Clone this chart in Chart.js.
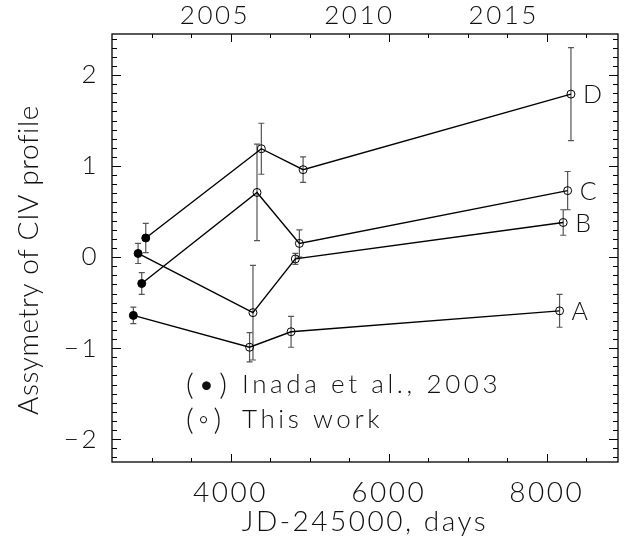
<!DOCTYPE html>
<html>
<head>
<meta charset="utf-8">
<script src="https://cdn.jsdelivr.net/npm/chart.js@4.4.0/dist/chart.umd.min.js"></script>
<style>
    html, body { margin: 0; padding: 0; background: #fff; }
</style>
</head>
<body>
<canvas id="myChart" width="632" height="547"></canvas>
<script>
'use strict';
// 데이터 (JD-2450000, asymmetry, error)
var seriesNames = ['A', 'B', 'C', 'D'];
var daysA = [2770, 4240, 4765, 8161];
var valsA = [-0.64, -0.99, -0.82, -0.59];
var errA  = [0.09, 0.16, 0.17, 0.18];
var daysB = [2830, 4283, 4819, 8207];
var valsB = [0.04, -0.61, -0.02, 0.38];
var errB  = [0.11, 0.52, 0.06, 0.14];
var daysC = [2876, 4334, 4870, 8263];
var valsC = [-0.29, 0.71, 0.15, 0.73];
var errC  = [0.12, 0.53, 0.15, 0.21];
var daysD = [2927, 4389, 4917, 8305];
var valsD = [0.21, 1.19, 0.96, 1.79];
var errD  = [0.16, 0.28, 0.14, 0.51];

var xTicks = [4000, 6000, 8000];
var yTicks = [-2, -1, 0, 1, 2];
var yearLabels = ['2005', '2010', '2015'];
var yearDays = [3803, 5629, 7455];
var legendMarks = ['(\u2022)', '(\u25e6)'];
var legendTexts = ['Inada et al., 2003', 'This work'];
var yTitle = 'Assymetry of CIV profile';

var allDays = [daysA, daysB, daysC, daysD];
var allVals = [valsA, valsB, valsC, valsD];
var allErr = [errA, errB, errC, errD];

var FONT = 'Lato, "DejaVu Sans", sans-serif';
var INK = '#111';

var datasets = seriesNames.map(function (name, i) {
    return {
        label: name,
        data: allDays[i].map(function (d, j) { return { x: d, y: allVals[i][j] }; }),
        borderColor: '#000',
        borderWidth: 1.4,
        tension: 0,
        fill: false,
        pointRadius: 4,
        pointBorderWidth: 1,
        pointBorderColor: '#000',
        // 첫 점은 Inada et al. (채움)
        pointBackgroundColor: allDays[i].map(function (d, j) { return j === 0 ? '#000' : 'rgba(0,0,0,0)'; })
    };
});

var framePlugin = {
    id: 'frame',
    beforeDraw: function (chart) {
        // 글자 간격 넓게 (원본 글꼴 흉내)
        chart.ctx.letterSpacing = '2.5px';
    },
    beforeDatasetsDraw: function (chart) {
        var ctx = chart.ctx, xs = chart.scales.x, ys = chart.scales.y;
        ctx.save();
        ctx.strokeStyle = '#555';
        ctx.lineWidth = 1.2;
        for (var i = 0; i < allDays.length; i++) {
            for (var j = 0; j < allDays[i].length; j++) {
                var px = xs.getPixelForValue(allDays[i][j]);
                var y1 = ys.getPixelForValue(allVals[i][j] + allErr[i][j]);
                var y2 = ys.getPixelForValue(allVals[i][j] - allErr[i][j]);
                ctx.beginPath();
                ctx.moveTo(px, y1); ctx.lineTo(px, y2);
                ctx.moveTo(px - 3, y1); ctx.lineTo(px + 3, y1);
                ctx.moveTo(px - 3, y2); ctx.lineTo(px + 3, y2);
                ctx.stroke();
            }
        }
        ctx.restore();
    },
    afterDraw: function (chart) {
        var ctx = chart.ctx, a = chart.chartArea, xs = chart.scales.x, ys = chart.scales.y;
        ctx.save();
        ctx.strokeStyle = '#000';
        ctx.lineWidth = 1.3;
        ctx.strokeRect(a.left, a.top, a.right - a.left, a.bottom - a.top);

        // 안쪽 눈금
        ctx.lineWidth = 1;
        ctx.beginPath();
        for (var v = 3000; v <= 8900; v += 500) {
            var px = Math.round(xs.getPixelForValue(v)) + 0.5;
            var len = (v % 2000 === 0) ? 8 : 4;
            ctx.moveTo(px, a.bottom); ctx.lineTo(px, a.bottom - len);
            ctx.moveTo(px, a.top); ctx.lineTo(px, a.top + len);
        }
        for (var k = -22; k <= 24; k++) {
            var py = Math.round(ys.getPixelForValue(k / 10)) + 0.5;
            var l2 = (k % 10 === 0) ? 9 : 5;
            ctx.moveTo(a.left, py); ctx.lineTo(a.left + l2, py);
            ctx.moveTo(a.right, py); ctx.lineTo(a.right - l2, py);
        }
        ctx.stroke();

        ctx.fillStyle = INK;

        // y축 제목
        ctx.save();
        ctx.letterSpacing = '0.6px';
        ctx.font = '300 28px ' + FONT;
        ctx.textAlign = 'center';
        ctx.textBaseline = 'middle';
        ctx.translate(29, 260);
        ctx.rotate(-Math.PI / 2);
        ctx.fillText(yTitle, 0, 0);
        ctx.restore();

        // 시리즈 이름
        ctx.letterSpacing = '0px';
        ctx.font = '300 25px ' + FONT;
        ctx.textAlign = 'left';
        ctx.textBaseline = 'middle';
        for (var i = 0; i < seriesNames.length; i++) {
            var last = allDays[i].length - 1;
            ctx.fillText(seriesNames[i], xs.getPixelForValue(allDays[i][last]) + 12,
                ys.getPixelForValue(allVals[i][last]) + 1);
        }

        // 범례
        ctx.textBaseline = 'alphabetic';
        ctx.letterSpacing = '4px';
        ctx.font = '300 30px ' + FONT;
        ctx.fillText(legendMarks[0], a.left + 74, a.bottom - 67);
        ctx.fillText(legendMarks[1], a.left + 74, a.bottom - 32);
        ctx.letterSpacing = '3.6px';
        ctx.font = '300 26px ' + FONT;
        ctx.fillText(legendTexts[0], a.left + 130, a.bottom - 69);
        ctx.fillText(legendTexts[1], a.left + 130, a.bottom - 34);
        ctx.restore();
    }
};

var ctx = document.getElementById('myChart').getContext('2d');
var myChart = new Chart(ctx, {
    type: 'line',
    data: { datasets: datasets },
    options: {
        responsive: false,
        animation: false,
        devicePixelRatio: 1,
        layout: { padding: { left: 0, right: 14, top: 0, bottom: 0 } },
        plugins: { legend: { display: false }, tooltip: { enabled: false } },
        scales: {
            x: {
                type: 'linear', position: 'bottom', min: 2500, max: 8900,
                afterBuildTicks: function (s) { s.ticks = xTicks.map(function (v) { return { value: v }; }); },
                afterFit: function (s) { s.height = 85; },
                grid: { display: false, drawTicks: false },
                border: { display: false },
                ticks: { padding: 14, color: INK, maxRotation: 0, autoSkip: false,
                    font: { family: FONT, size: 28, weight: '300' },
                    callback: function (v) { return '' + v; } },
                title: { display: true, text: 'JD-245000, days', color: INK,
                    font: { family: FONT, size: 28, weight: '300' }, padding: { top: 0, bottom: 8 } }
            },
            x2: {
                type: 'linear', position: 'top', min: 2500, max: 8900,
                afterBuildTicks: function (s) { s.ticks = yearDays.map(function (v) { return { value: v }; }); },
                afterFit: function (s) { s.height = 34; },
                grid: { display: false, drawTicks: false },
                border: { display: false },
                ticks: { padding: 3, color: INK, maxRotation: 0, autoSkip: false,
                    font: { family: FONT, size: 26, weight: '300' },
                    callback: function (v, idx) { return yearLabels[idx]; } }
            },
            y: {
                type: 'linear', min: -2.25, max: 2.45,
                afterBuildTicks: function (s) { s.ticks = yTicks.map(function (v) { return { value: v }; }); },
                afterFit: function (s) { s.width = 112; },
                grid: { display: false, drawTicks: false },
                border: { display: false },
                ticks: { padding: 13, color: INK,
                    font: { family: FONT, size: 26, weight: '300' },
                    callback: function (v) { return v < 0 ? '\u2212' + Math.abs(v) : '' + v; } }
            }
        }
    },
    plugins: [framePlugin]
});
</script>
</body>
</html>
